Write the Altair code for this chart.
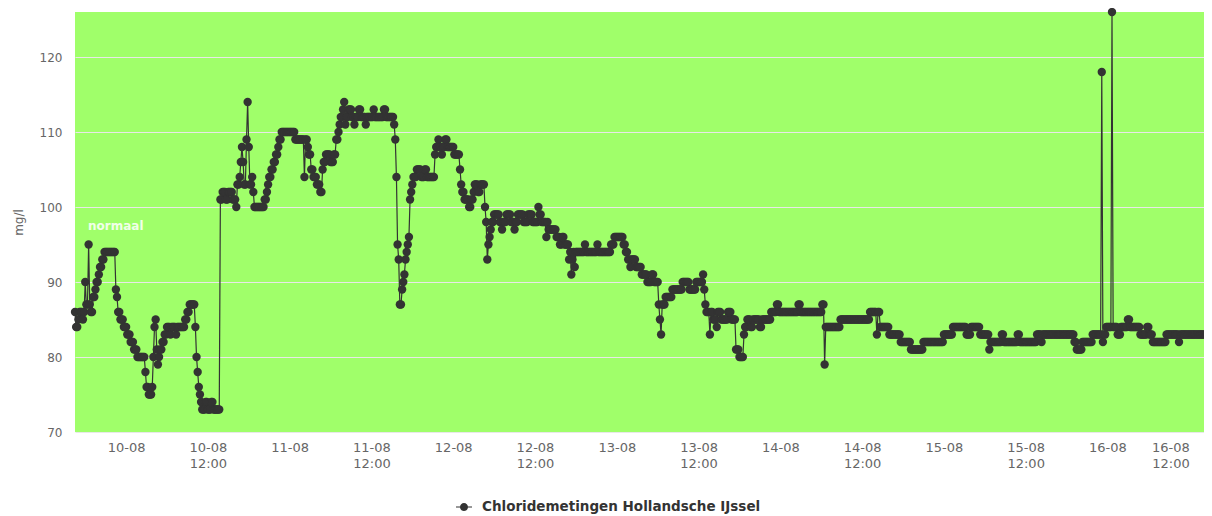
import altair as alt
import numpy as np
import pandas as pd

SERIES = "Chloridemetingen Hollandsche IJssel"
BAND_LABEL = "normaal"
START = "2018-08-09 16:30"
END = "2018-08-16 14:10"   # right edge of the visible plot area
STEP_MIN = 10  # one reading every 10 minutes

# chloride readings (mg/l) as runs: value held for `count` consecutive readings
run_values = [
    86, 84, 85, 86, 85, 86, 90, 87, 95, 87, 86,
    88, 89, 90, 91, 92, 93,
    94, 89, 88,
    86, 85, 84, 83, 82, 81, 80,
    78, 76, 75, 76,
    80, 84, 85, 81, 79, 80, 81, 82,
    83, 84, 83, 84, 83, 84,
    85, 86, 87,
    84, 80, 78, 76, 75, 74,
    73, 74, 73, 74, 73,
    101, 102, 101, 102, 101,
    100,
    103, 104, 106, 108, 106, 103, 109, 114, 108, 103, 104,
    102,
    100,
    101, 102, 103, 104, 105, 106, 107, 108, 109,
    110,
    109, 104, 109,
    108, 107,
    105, 104, 103, 102,
    105, 106, 107, 106, 107,
    109, 110, 111, 112,
    113, 114, 111, 112,
    113, 112, 111, 112, 113, 112, 111, 112, 113, 112, 113, 112, 111,
    109, 104,
    95, 93, 87, 89, 90, 91, 93, 94, 95, 96,
    101, 102, 103, 104,
    104, 105, 104, 105, 104,
    107, 108, 109, 108, 107, 108, 109, 108,
    107, 105, 103,
    102, 101, 100, 101, 102,
    103, 102, 103,
    100, 98,
    93, 95, 96,
    97, 98, 99,
    99, 98, 97, 98, 99, 98, 97, 98, 99, 98, 99, 98,
    100, 99, 98, 96, 98, 97,
    97, 96, 95, 96, 95,
    93, 94, 91, 93, 94,
    92,
    94, 95, 94, 95, 94,
    95, 96,
    95, 94, 93, 92,
    93, 92, 91, 90, 91, 90,
    87, 85, 83,
    87, 88, 89,
    90, 89, 90,
    91,
    89, 87, 86, 83,
    86, 85, 84, 86, 85, 86, 85,
    81, 80,
    83, 84, 85, 84,
    85, 84, 85,
    86, 87, 86, 87, 86, 87,
    79,
    84,
    85,
    86, 83, 86,
    84, 83,
    82,
    81,
    82,
    83, 84, 83,
    84, 83,
    81,
    82, 83, 82, 83, 82,
    83, 82, 83,
    82, 81,
    82, 83,
    118,
    82, 83, 84,
    126,
    84, 83, 84, 85, 84,
    83, 84, 83,
    82,
    83, 82, 83,
]
run_counts = [
    1, 2, 1, 3, 1, 1, 1, 2, 1, 1, 2,
    2, 1, 2, 1, 2, 2,
    10, 1, 1,
    2, 3, 3, 3, 3, 3, 7,
    1, 2, 3, 1,
    1, 1, 1, 1, 1, 1, 2, 2,
    2, 3, 1, 4, 1, 7,
    2, 2, 5,
    1, 1, 1, 1, 1, 1,
    3, 2, 3, 2, 6,
    2, 3, 2, 4, 3,
    1,
    2, 1, 1, 1, 1, 2, 1, 1, 1, 2, 1,
    1,
    9,
    2, 1, 1, 2, 2, 2, 2, 1, 2,
    12,
    8, 1, 2,
    1, 2,
    2, 3, 3, 2,
    1, 2, 4, 3, 2,
    2, 1, 1, 2,
    1, 1, 1, 2,
    3, 2, 1, 3, 2, 4, 1, 6, 1, 8, 2, 7, 1,
    1, 1,
    1, 1, 2, 1, 1, 1, 1, 1, 1, 1,
    1, 1, 1, 1,
    2, 4, 3, 2, 7,
    1, 2, 1, 2, 1, 2, 2, 6,
    5, 1, 1,
    2, 4, 2, 2, 1,
    3, 2, 4,
    1, 1,
    1, 1, 1,
    1, 2, 2,
    3, 2, 1, 3, 4, 3, 1, 2, 5, 4, 4, 5,
    1, 2, 4, 1, 1, 2,
    5, 3, 2, 2, 4,
    1, 1, 1, 1, 1,
    1,
    8, 1, 10, 1, 11,
    3, 8,
    2, 2, 2, 1,
    4, 5, 5, 4, 2, 4,
    1, 1, 1,
    3, 6, 9,
    6, 6, 6,
    1,
    1, 1, 3, 1,
    2, 3, 1, 3, 6, 3, 4,
    3, 4,
    1, 2, 3, 2,
    6, 2, 8,
    5, 2, 17, 2, 19, 2,
    1,
    13,
    26,
    6, 1, 2,
    8, 10,
    9,
    11,
    18,
    8, 12, 4,
    8, 8,
    1,
    10, 2, 12, 2, 15,
    4, 1, 28,
    2, 5,
    9, 8,
    1,
    1, 2, 5,
    1,
    4, 3, 6, 2, 9,
    6, 2, 3,
    12,
    11, 1, 28,
]

tick_times = [
    "2018-08-10 00:00", "2018-08-10 12:00", "2018-08-11 00:00", "2018-08-11 12:00",
    "2018-08-12 00:00", "2018-08-12 12:00", "2018-08-13 00:00", "2018-08-13 12:00",
    "2018-08-14 00:00", "2018-08-14 12:00", "2018-08-15 00:00", "2018-08-15 12:00",
    "2018-08-16 00:00", "2018-08-16 12:00",
]
y_ticks = [70, 80, 90, 100, 110, 120]
y_domain = [70, 126]


def to_ms(s):
    return int(pd.Timestamp(s, tz="UTC").value // 10**6)


values = np.repeat(run_values, run_counts)
t0 = to_ms(START)
times = t0 + np.arange(len(values)) * STEP_MIN * 60 * 1000
df = pd.DataFrame({"t": times, "v": values, "serie": SERIES})
x_domain = [to_ms(START), to_ms(END)]
tick_ms = [to_ms(s) for s in tick_times]

FONT = "DejaVu Sans"
GREY = "#666666"

x_enc = alt.X(
    "t:T",
    scale=alt.Scale(type="utc", domain=x_domain, nice=False),
    axis=alt.Axis(
        values=tick_ms,
        labelExpr="utchours(datum.value) == 12 ? [utcFormat(datum.value, '%d-%m'), '12:00'] : utcFormat(datum.value, '%d-%m')",
        grid=False, ticks=False, domain=False,
        labelColor=GREY, labelFont=FONT, labelFontSize=13,
        labelPadding=9, labelLineHeight=16, labelBaseline="top",
        labelFlush=20, labelOverlap=False,
        title=None,
    ),
)
y_enc = alt.Y(
    "v:Q",
    scale=alt.Scale(domain=y_domain, nice=False, zero=False),
    axis=alt.Axis(
        values=y_ticks, ticks=False, domain=False,
        gridColor="#e8e8e8", gridWidth=1,
        labelColor=GREY, labelFont=FONT, labelFontSize=12,
        labelPadding=13,
        title="mg/l", titleColor=GREY, titleFont=FONT, titleFontSize=12,
        titleFontWeight="normal", titleAngle=-90, titleX=-57, titleY=210,
        titleAlign="center", titleBaseline="middle",
    ),
)

line = alt.Chart(df).mark_line(color="#333333", strokeWidth=1.2).encode(x=x_enc, y=y_enc)

legend_symbol = "M-1,-0.07H1V0.07H-1Z M0.5,0A0.5,0.5,0,1,1,-0.5,0A0.5,0.5,0,1,1,0.5,0Z"
points = alt.Chart(df).mark_circle(size=70, opacity=1).encode(
    x=x_enc,
    y=y_enc,
    color=alt.Color(
        "serie:N",
        scale=alt.Scale(domain=[SERIES], range=["#333333"]),
        legend=alt.Legend(
            title=None, orient="none", legendX=381, legendY=487,
            symbolType=legend_symbol, symbolSize=256, symbolOpacity=1,
            symbolStrokeWidth=0, padding=0, labelOffset=10, labelLimit=500,
            labelFont=FONT, labelFontWeight="bold", labelFontSize=13.5,
            labelColor="#333333",
        ),
    ),
)

band_df = pd.DataFrame({"label": [BAND_LABEL]})
band_text = alt.Chart(band_df).mark_text(
    align="left", baseline="middle", font=FONT, fontSize=12, fontWeight="bold",
    color="#ffffff", opacity=0.85,
).encode(text="label:N", x=alt.value(13), y=alt.value(214))

chart = (
    alt.layer(line, points, band_text)
    .properties(
        width=1129, height=420,
        autosize=alt.AutoSizeParams(type="none"),
        padding={"left": 67, "top": 4, "right": 0, "bottom": 84},
        background="#ffffff",
    )
    .configure_view(stroke=None, fill="#A0FF6A")
)

chart.save("out.html", embed_options={"renderer": "svg", "actions": False})
